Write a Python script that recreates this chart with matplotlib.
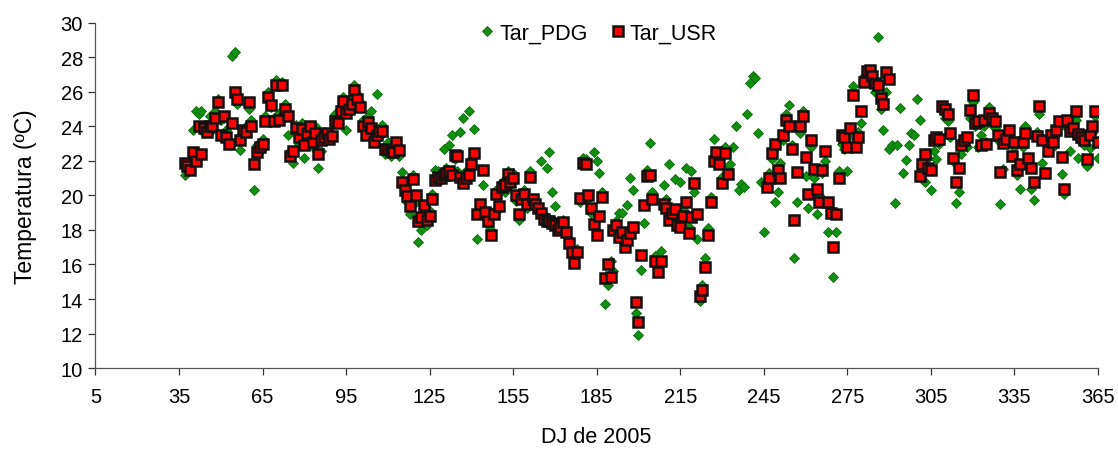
import numpy as np
import matplotlib
matplotlib.use("Agg")
import matplotlib.pyplot as plt

plt.rcParams['font.family'] = ['Liberation Sans', 'DejaVu Sans']

# Tar_PDG: one value per day, days 37..365
pdg_start = 37
pdg_values = [
    21.2, 21.5, 21.8, 23.8, 24.9, 24.7, 24.9, 23.6, 24.0, 24.6,   # 37-46
    23.8, 24.9, 25.6, 24.4, 24.5, 23.8, 22.9, 28.1, 28.3, 25.3,   # 47-56
    22.65, 23.5, 24.0, 25.0, 24.4, 20.3, 22.9, 22.6, 23.3, 24.6,  # 57-66
    26.0, 25.1, 24.5, 26.7, 24.8, 26.6, 25.3, 23.5, 22.6, 21.9,   # 67-76
    24.1, 23.0, 24.2, 22.2, 23.9, 23.6, 22.8, 24.0, 21.6, 22.6,   # 77-86
    23.7, 23.2, 23.6, 23.4, 24.7, 24.5, 25.2, 25.7, 23.8, 25.3,   # 87-96
    25.7, 26.4, 25.9, 25.4, 24.4, 24.0, 24.6, 24.9, 23.6, 25.9,   # 97-106
    23.4, 24.1, 22.4, 23.1, 22.3, 22.9, 22.6, 22.3, 21.35, 20.7,  # 107-116
    19.6, 18.9, 21.2, 19.6, 17.3, 18.0, 19.1, 18.3, 19.1, 20.1,   # 117-126
    21.5, 21.4, 20.9, 22.7, 21.6, 22.9, 23.5, 22.1, 21.4, 23.7,   # 127-136
    24.5, 21.4, 24.9, 22.1, 23.85, 17.5, 19.2, 20.6, 18.7, 18.3,  # 137-146
    18.0, 19.1, 20.3, 19.2, 20.8, 20.2, 21.4, 20.6, 21.3, 19.7,   # 147-156
    18.6, 20.1, 20.3, 19.3, 21.4, 19.6, 19.7, 19.1, 22.0, 18.9,   # 157-166
    21.6, 22.5, 20.2, 19.4, 18.2, 18.4, 18.6, 17.7, 17.5, 16.9,   # 167-176
    16.4, 16.9, 19.6, 22.2, 22.1, 19.8, 19.0, 22.5, 22.0, 21.3,   # 177-186
    20.2, 13.7, 14.8, 16.2, 15.6, 18.5, 19.0, 19.0, 17.6, 19.45,  # 187-196
    21.0, 20.3, 13.2, 11.9, 15.7, 18.4, 21.5, 23.05, 20.2, 16.5,  # 197-206
    15.9, 16.8, 20.6, 19.8, 21.8, 18.9, 20.95, 18.6, 20.8, 19.2,  # 207-216
    21.6, 18.2, 21.4, 20.2, 17.5, 13.9, 14.8, 16.35, 18.1, 19.9,  # 217-226
    23.3, 22.3, 22.2, 21.1, 22.8, 21.6, 21.8, 22.8, 24.05, 20.3,  # 227-236
    20.65, 20.5, 24.7, 26.5, 26.95, 26.8, 23.6, 20.8, 17.9, 20.9, # 237-246
    21.3, 22.1, 19.6, 20.2, 21.9, 23.2, 24.7, 25.25, 22.9, 16.4,  # 247-256
    19.65, 23.6, 24.9, 21.15, 19.3, 22.8, 21.0, 18.9, 20.0, 21.3, # 257-266
    22.0, 17.9, 19.2, 15.3, 17.9, 21.4, 23.0, 22.7, 21.4, 23.5,   # 267-276
    26.35, 23.3, 23.7, 24.2, 26.9, 27.0, 26.8, 27.2, 26.0, 29.2,  # 277-286
    25.0, 23.8, 26.0, 22.7, 22.9, 19.55, 22.95, 25.05, 21.3, 22.05, # 287-296
    22.95, 23.65, 23.5, 25.6, 24.4, 20.95, 20.8, 22.2, 20.3, 22.55, # 297-306
    22.1, 23.0, 24.9, 24.5, 24.3, 23.4, 22.0, 19.55, 20.2, 22.4,  # 307-316
    23.4, 22.8, 24.5, 25.4, 24.0, 22.8, 23.5, 24.0, 23.1, 25.15,  # 317-326
    24.2, 23.9, 23.2, 19.5, 21.55, 23.3, 23.5, 22.4, 22.8, 21.2,  # 327-336
    20.4, 22.8, 24.0, 22.0, 20.4, 19.75, 23.7, 24.7, 21.9, 21.35, # 337-346
    22.9, 23.3, 22.8, 23.5, 24.0, 21.25, 20.1, 23.9, 22.6, 23.6,  # 347-356
    24.4, 22.2, 23.1, 22.9, 21.7, 22.75, 23.65, 24.6, 22.2,       # 357-365
]

# Tar_USR: three continuous segments of daily values
usr_start_1 = 37
usr_values_1 = [
    21.9, 21.7, 21.5, 22.5, 22.0, 24.0, 22.4, 23.9, 23.7, 24.0,   # 37-46
    24.0, 24.5, 25.4, 23.5, 24.6, 23.4, 23.0, 24.2, 26.0, 25.6,   # 47-56
    23.2, 23.8, 23.7, 25.4, 24.05, 21.8, 22.5, 22.8, 23.0, 24.3,  # 57-66
    25.7, 25.25, 24.3, 26.4, 24.4, 26.4, 25.0, 24.6, 22.3, 22.6,  # 67-76
    23.9, 23.4, 23.85, 22.9, 23.6, 24.05, 23.1, 23.6, 22.4, 23.2, # 77-86
    23.4, 23.6, 23.3, 23.45, 24.3, 24.2, 24.9, 25.5, 24.8, 25.0,  # 87-96
    25.3, 26.1, 25.6, 25.15, 24.0, 23.5, 24.25, 23.9, 23.1, 23.5, # 97-106
    23.75, 23.75, 22.7, 22.7, 22.6, 22.5, 23.1, 22.65, 20.8, 20.3, # 107-116
    19.95, 19.4, 20.95, 20.0, 18.55, 18.75, 19.45, 18.6, 18.8, 19.8, # 117-126
    20.9, 21.1, 21.0, 21.2, 21.3, 21.4, 21.2, 22.35, 22.3, 21.1,  # 127-136
    20.7, 21.0, 21.2, 21.8, 22.45, 18.9, 19.5, 21.5, 19.05, 18.55, # 137-146
    17.7, 18.9, 20.1, 19.4, 20.5, 20.6, 21.25, 20.8, 21.0, 20.0,  # 147-156
    18.9, 19.8, 20.1, 19.5, 21.1, 19.8, 19.5, 19.3, 19.0, 18.65,  # 157-166
    18.5, 18.5, 18.4, 18.3, 18.0, 18.2, 18.45, 17.9, 17.25, 16.75, # 167-176
    16.1, 16.7, 19.85, 21.9, 21.8, 20.0, 19.3, 18.35, 17.7, 18.8, # 177-186
    19.9, 15.2, 16.0, 15.3, 18.0, 18.3, 17.6, 17.9, 17.0, 17.4,   # 187-196
    17.8, 18.2, 13.85, 12.65, 16.55, 19.45, 21.15, 21.2, 19.8, 16.2, # 197-206
    15.55, 16.2, 19.5, 19.3, 18.6, 19.0, 19.2, 18.3, 18.15, 18.8, # 207-216
    19.65, 17.8, 18.75, 20.7, 18.9, 14.2, 14.5, 15.85, 17.7, 19.65, # 217-226
    22.0, 22.5, 21.8, 20.7, 22.45, 21.25,                         # 227-232
]
usr_start_2 = 246
usr_values_2 = [
    20.5, 21.0, 22.45, 23.0, 21.45, 21.0, 23.5, 24.4, 24.05, 22.7, # 246-255
    18.6, 21.35, 24.0, 24.6, 22.25, 20.1, 23.2, 21.55, 20.4, 19.65, # 256-265
    21.45, 22.55, 19.6, 19.0, 17.0, 18.9, 21.0, 23.5, 23.4, 22.8, # 266-275
    23.9, 25.85, 22.8, 23.4, 24.9, 26.6, 27.2, 27.3, 26.95, 26.5, # 276-285
    26.4, 25.65, 25.3, 27.15, 26.75,                              # 286-290
]
usr_start_3 = 301
usr_values_3 = [
    21.15, 21.8, 22.4, 21.6, 21.45, 23.2, 23.4, 23.3, 25.2, 25.0, # 301-310
    24.7, 23.6, 22.2, 20.8, 21.6, 22.9, 23.2, 23.4, 24.95, 25.85, # 311-320
    24.2, 24.3, 22.95, 24.4, 23.0, 24.8, 24.5, 24.3, 23.5, 21.35, # 321-330
    23.05, 23.3, 23.8, 22.3, 23.1, 21.5, 21.8, 23.1, 23.6, 22.2,  # 331-340
    21.6, 20.8, 23.45, 25.2, 23.2, 21.3, 22.6, 23.5, 23.1, 23.8,  # 341-350
    24.3, 22.25, 20.4, 24.35, 23.75, 23.9, 24.9, 23.55, 23.4, 23.2, # 351-360
    22.1, 23.5, 24.0, 24.9, 23.1,                                 # 361-365
]

x_ticks = list(range(5, 366, 30))
y_ticks = list(range(10, 31, 2))

pdg_days = np.arange(pdg_start, pdg_start + len(pdg_values))
usr_days = np.concatenate([
    np.arange(usr_start_1, usr_start_1 + len(usr_values_1)),
    np.arange(usr_start_2, usr_start_2 + len(usr_values_2)),
    np.arange(usr_start_3, usr_start_3 + len(usr_values_3)),
])
usr_all = usr_values_1 + usr_values_2 + usr_values_3

fig = plt.figure(figsize=(11.18, 4.52), dpi=100)
ax = fig.add_axes([0.0854, 0.1836, 0.8966, 0.7634])

ax.plot(pdg_days, pdg_values, linestyle='none', marker='D', markersize=5.2,
        markerfacecolor='#109010', markeredgecolor='#0a6a0a', markeredgewidth=0.6,
        label='Tar_PDG', zorder=2)
ax.plot(usr_days, usr_all, linestyle='none', marker='s', markersize=6.6,
        markerfacecolor='#ff0000', markeredgecolor='#111111', markeredgewidth=1.8,
        label='Tar_USR', zorder=3)

ax.set_xlim(5, 365)
ax.set_ylim(10, 30)
ax.set_xticks(x_ticks)
ax.set_yticks(y_ticks)
ax.tick_params(axis='both', direction='out', length=5, width=0.9, colors='#333333',
               labelsize=14.5, labelcolor='black')
ax.tick_params(axis='x', pad=9)
ax.tick_params(axis='y', pad=4)
for s in ['top', 'right']:
    ax.spines[s].set_visible(False)
for s in ['left', 'bottom']:
    ax.spines[s].set_color('#555555')
    ax.spines[s].set_linewidth(0.9)

ax.set_xlabel('DJ de 2005', fontsize=15.5, labelpad=14)
ax.set_ylabel('Temperatura (ºC)', fontsize=16.5, labelpad=17)

leg = ax.legend(loc='upper center', bbox_to_anchor=(0.5, 1.025), ncol=2, frameon=False,
                fontsize=15.5, handletextpad=0.05, columnspacing=0.9, handlelength=1.0,
                borderaxespad=0.0)

fig.savefig('out.png', dpi=100)
